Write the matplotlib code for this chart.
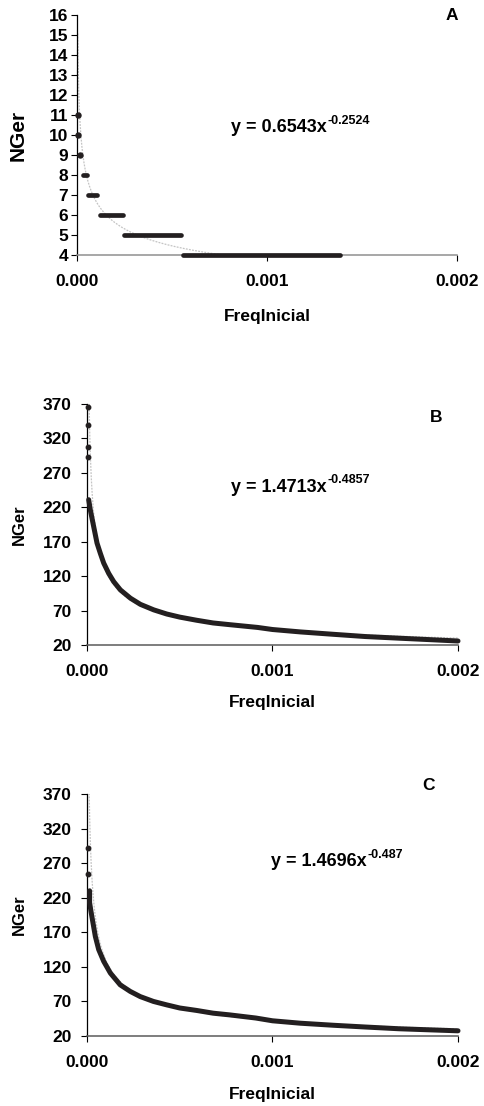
import numpy as np
import matplotlib
matplotlib.use('Agg')
import matplotlib.pyplot as plt
from matplotlib.ticker import FormatStrFormatter, MultipleLocator

plt.rcParams['font.family'] = 'Liberation Sans'
plt.rcParams['font.weight'] = 'bold'

# ---- panel A: NGer comes in steps ----
a_level = [11, 10, 9, 8, 7, 6, 5, 4]
a_start = [0.000004, 0.000004, 0.000017, 0.000031, 0.00006, 0.00012, 0.00025, 0.00056]
a_end = [0.000004, 0.000004, 0.000017, 0.000053, 0.000106, 0.00024, 0.000545, 0.001385]
a_coef, a_exp = 0.6543, -0.2524

# ---- panel B ----
b_iso_x = [0.000004, 0.000004, 0.000004, 0.000008]
b_iso_y = [366, 340, 308, 293]
b_x = [0.000009, 0.000018, 0.000036, 0.000054, 0.000072, 0.00009, 0.000117,
       0.000144, 0.00018, 0.000234, 0.000288, 0.00036, 0.00043, 0.0005,
       0.00059, 0.00068, 0.00077, 0.00092, 0.001, 0.00115, 0.00133, 0.0015,
       0.00169, 0.00187, 0.002]
b_y = [231, 216, 192, 168, 153, 139, 124, 112, 100, 88, 79, 71, 65, 60.5,
       56, 52, 49.5, 45.5, 42.5, 39, 35.5, 32.3, 29.8, 27.5, 25.8]
b_coef, b_exp = 1.4713, -0.4857

# ---- panel C ----
c_iso_x = [0.000005, 0.000005]
c_iso_y = [292, 254]
c_x = [0.000014, 0.000014, 0.000021, 0.000032, 0.000045, 0.000063, 0.00009,
       0.000126, 0.000179, 0.000233, 0.000287, 0.000358, 0.00043, 0.0005,
       0.00059, 0.00068, 0.00077, 0.00091, 0.001, 0.00115, 0.00133, 0.0015,
       0.00168, 0.00186, 0.002]
c_y = [230, 213, 201, 184, 164, 145, 128, 111, 94, 84.5, 77, 70, 65, 60.5,
       57, 53, 50.5, 46, 42, 38.5, 35.5, 33, 30.5, 28.8, 27.5]
c_coef, c_exp = 1.4696, -0.487

W, H = 485, 1106
dot = '#231f20'
fit_col = '#c4c4c4'


def fx(px):
    return px / W


def fy(py):
    return 1 - py / H


def style_axes(ax, bottom_col, ypad):
    """Excel like look: only left and bottom axis lines"""
    ax.spines['top'].set_visible(False)
    ax.spines['right'].set_visible(False)
    ax.spines['left'].set_linewidth(0.9)
    ax.spines['bottom'].set_color(bottom_col)
    ax.spines['bottom'].set_linewidth(1.1)
    ax.tick_params(axis='y', direction='out', length=4.5, width=0.8,
                   labelsize=12.5, pad=ypad)
    ax.tick_params(axis='x', direction='out', length=4, width=0.8,
                   colors='black', labelsize=12.5, pad=10)
    ax.xaxis.set_major_formatter(FormatStrFormatter('%.3f'))
    ax.set_xlim(0, 0.002)
    ax.set_xticks([0, 0.001, 0.002])
    for lab in ax.get_xticklabels() + ax.get_yticklabels():
        lab.set_fontweight('bold')


def fit_line(ax, xmin, xmax, coef, expo):
    xs = np.linspace(xmin, xmax, 4000)
    ax.plot(xs, coef * xs ** expo, color=fit_col, lw=0.9, ls=(0, (1.5, 1)),
            zorder=1)


def equation(px, py, coef, expo):
    """writes y = a x^b with a plain hyphen in the exponent"""
    t = fig.text(fx(px), fy(py), 'y = %sx' % coef, ha='left', va='center',
                 fontsize=13, fontweight='bold')
    bb = t.get_window_extent(renderer=fig.canvas.get_renderer())
    fig.text(bb.x1 / W + 0.002, fy(py - 7), '%s' % expo, ha='left',
             va='center', fontsize=9, fontweight='bold')


fig = plt.figure(figsize=(4.85, 11.06), dpi=100)

# panel A
axA = fig.add_axes([fx(77), fy(255), 380 / W, 240 / H])
fit_line(axA, min(a_start), max(a_end), a_coef, a_exp)
for lev, s, e in zip(a_level, a_start, a_end):
    if s == e:
        axA.plot([s], [lev], 'o', color=dot, ms=3.6, clip_on=False, zorder=3)
    else:
        axA.plot([s, e], [lev, lev], color=dot, lw=3.4,
                 solid_capstyle='round', clip_on=False, zorder=3)
axA.set_ylim(4, 16)
axA.yaxis.set_major_locator(MultipleLocator(1))
style_axes(axA, '#8f8f8f', 2)
fig.text(fx(452), fy(15), 'A', ha='center', va='center', fontsize=12.5,
         fontweight='bold')
equation(231, 128, a_coef, a_exp)
fig.text(fx(18), fy(135), 'NGer', rotation=90, ha='center', va='center',
         fontsize=15, fontweight='bold')
fig.text(fx(267), fy(316), 'FreqInicial', ha='center', va='center',
         fontsize=12.5, fontweight='bold')

# panels B and C
panels = [
    ('B', 404, 645, b_iso_x, b_iso_y, b_x, b_y, b_coef, b_exp,
     (436, 418), (231, 487), 702),
    ('C', 794, 1036, c_iso_x, c_iso_y, c_x, c_y, c_coef, c_exp,
     (429, 786), (271, 862), 1094),
]
for (name, top, bot, ix, iy, xs, ys, coef, expo, lpos, epos,
     xlab_y) in panels:
    ax = fig.add_axes([fx(87), fy(bot), 371 / W, (bot - top) / H])
    fit_line(ax, min(ix), max(xs), coef, expo)
    ax.plot(xs, ys, color=dot, lw=3.6, solid_capstyle='round',
            solid_joinstyle='round', clip_on=False, zorder=3)
    ax.plot(ix, iy, 'o', color=dot, ms=3.2, clip_on=False, zorder=3)
    ax.set_ylim(20, 370)
    ax.set_yticks(np.arange(20, 371, 50))
    style_axes(ax, '#5a5a5a', 6.5)
    fig.text(fx(lpos[0]), fy(lpos[1]), name, ha='center', va='center',
             fontsize=12.5, fontweight='bold')
    equation(epos[0], epos[1], coef, expo)
    fig.text(fx(19), fy((top + bot) / 2), 'NGer', rotation=90, ha='center',
             va='center', fontsize=12, fontweight='bold')
    fig.text(fx(272), fy(xlab_y), 'FreqInicial', ha='center', va='center',
             fontsize=12.5, fontweight='bold')

fig.savefig('out.png', dpi=100)
